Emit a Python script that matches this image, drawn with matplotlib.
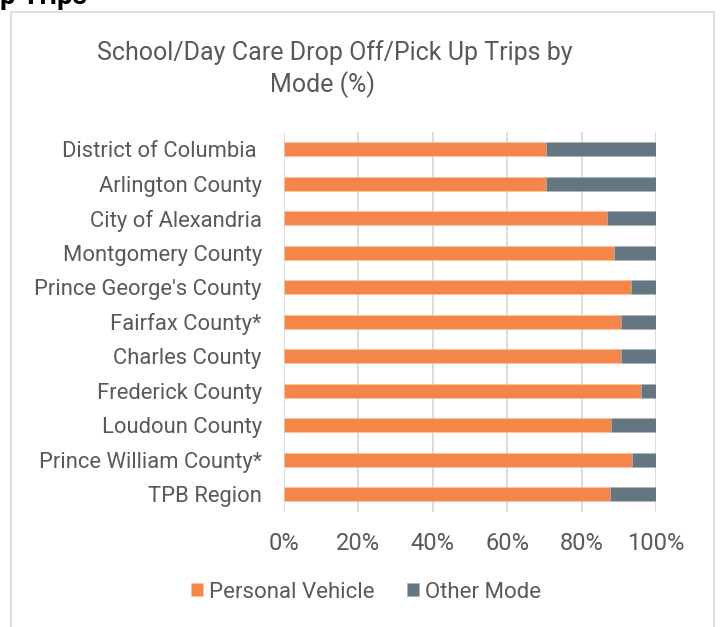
import matplotlib
matplotlib.use("Agg")
import matplotlib.pyplot as plt
from matplotlib.patches import Rectangle
from matplotlib.ticker import FuncFormatter

plt.rcParams['font.family'] = ['Roboto', 'DejaVu Sans']

categories = ["District of Columbia ", "Arlington County", "City of Alexandria",
              "Montgomery County", "Prince George's County", "Fairfax County*",
              "Charles County", "Frederick County", "Loudoun County",
              "Prince William County*", "TPB Region"]
personal_vehicle = [70.4, 70.3, 86.8, 88.6, 93.3, 90.5, 90.7, 96.1, 87.9, 93.5, 87.5]
other_mode = [100 - v for v in personal_vehicle]
x_ticks = [0, 20, 40, 60, 80, 100]
title_line1 = "School/Day Care Drop Off/Pick Up Trips by"
title_line2 = "Mode (%)"

W, H = 721, 627
fig = plt.figure(figsize=(W / 100, H / 100), dpi=100)
TXT = '#595959'
ORANGE = '#F5864A'
GREY = '#637681'

# chart border
fig.patches.append(Rectangle((11 / W, -0.05), (714 - 11) / W, 1 - 12 / H + 0.05,
                             transform=fig.transFigure, fill=False,
                             edgecolor='#d9d9d9', linewidth=1.2))

# partially visible heading above chart
fig.text(0 / W, 1 - 4 / H, "p Trips", fontsize=20, fontweight='bold',
         color='black', ha='left', va='baseline')

ax = fig.add_axes([284 / W, 1 - 511.5 / H, 372 / W, 379.5 / H])
y = list(range(len(categories)))
ax.barh(y, personal_vehicle, height=0.4, color=ORANGE, label='Personal Vehicle',
        zorder=3, edgecolor='#f9c4a4', linewidth=0.4)
ax.barh(y, other_mode, left=personal_vehicle, height=0.4, color=GREY,
        label='Other Mode', zorder=3, edgecolor='#aab5bb', linewidth=0.4)
ax.set_ylim(len(categories) - 0.5, -0.5)
ax.set_xlim(0, 100)
ax.set_yticks(y)
ax.set_yticklabels(categories, fontsize=15.8, color=TXT)
ax.set_xticks(x_ticks)
ax.xaxis.set_major_formatter(FuncFormatter(lambda v, p: f"{int(v)}%"))
ax.tick_params(axis='x', labelsize=17, labelcolor=TXT, length=0, pad=15)
ax.tick_params(axis='y', length=0, pad=16)
ax.grid(axis='x', color='#d9d9d9', linewidth=1.3, zorder=0)
for s in ax.spines.values():
    s.set_visible(False)

fig.text(335 / W, 1 - 53 / H, title_line1, fontsize=18, color=TXT, ha='center', va='center')
fig.text(322 / W, 1 - 85 / H, title_line2, fontsize=18, color=TXT, ha='center', va='center')

leg = fig.legend(loc='center', bbox_to_anchor=(366 / W, 1 - 592 / H), ncol=2,
                 frameon=False, fontsize=16, handlelength=0.55, handleheight=0.55,
                 handletextpad=0.25, columnspacing=1.45)
for t in leg.get_texts():
    t.set_color(TXT)

fig.savefig("out.png", dpi=100)
